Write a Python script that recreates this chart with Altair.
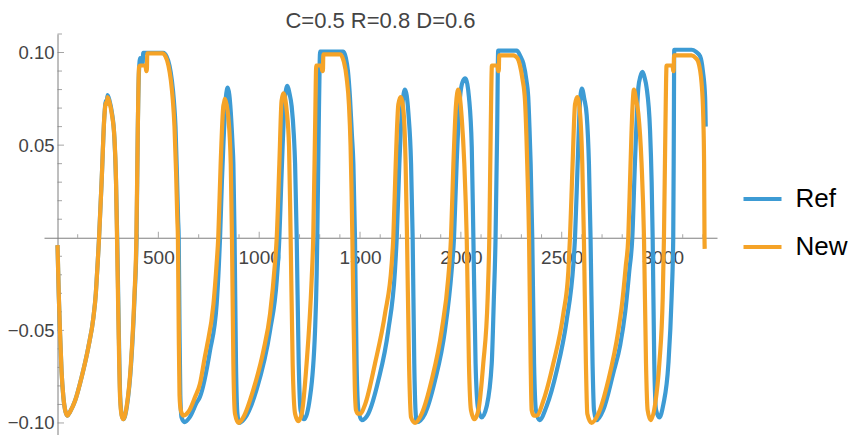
import altair as alt
import pandas as pd

# ---------------- data ----------------
ref_x = [0, 6, 12, 20, 29, 40, 50, 62, 87, 120, 153, 178, 190, 194, 200, 206, 219, 232, 240, 244,
         248, 258, 269, 282, 290, 296, 303, 311, 319, 327, 344, 365, 382, 392, 398, 404, 410, 418,
         422, 425, 525, 540, 555, 567, 577, 585, 592, 598, 601, 605, 609, 615, 630, 655, 690, 706,
         756, 789, 800, 806, 815, 822, 835, 844, 852, 859, 868, 872, 878, 885, 892, 901, 925, 987,
         1054, 1087, 1100, 1108, 1116, 1128, 1140, 1150, 1161, 1172, 1178, 1186, 1196, 1205, 1222,
         1252, 1277, 1285, 1288, 1295, 1300, 1302, 1417, 1430, 1440, 1450, 1460, 1467, 1475, 1483,
         1492, 1508, 1541, 1591, 1640, 1673, 1682, 1695, 1710, 1723, 1740, 1753, 1761, 1769, 1775,
         1781, 1822, 1872, 1921, 1954, 1966, 1979, 1996, 2008, 2022, 2032, 2040, 2054, 2062, 2073,
         2085, 2103, 2128, 2153, 2163, 2172, 2180, 2185, 2277, 2295, 2310, 2325, 2334, 2340, 2346,
         2354, 2363, 2372, 2389, 2425, 2475, 2524, 2558, 2566, 2579, 2590, 2600, 2612, 2624, 2635,
         2643, 2653, 2660, 2673, 2706, 2756, 2790, 2815, 2835, 2850, 2863, 2880, 2890, 2901, 2912,
         2921, 2938, 2946, 2951, 2959, 2968, 2984, 3004, 3029, 3045, 3053, 3056, 3058, 3144, 3165,
         3186, 3200, 3211, 3214]
ref_y = [-0.004, -0.030, -0.050, -0.072, -0.086, -0.094, -0.096, -0.094, -0.088, -0.075, -0.059,
         -0.043, -0.030, -0.023, -0.012, 0.000, 0.031, 0.065, 0.074, 0.073, 0.077, 0.074, 0.068,
         0.054, 0.031, 0.000, -0.045, -0.086, -0.096, -0.098, -0.091, -0.068, -0.032, 0.000, 0.058,
         0.090, 0.097, 0.095, 0.094, 0.0998, 0.0998, 0.098, 0.093, 0.085, 0.074, 0.060, 0.035,
         0.010, 0.000, -0.050, -0.085, -0.097, -0.0995, -0.097, -0.089, -0.086, -0.061, -0.036,
         -0.015, 0.000, 0.030, 0.049, 0.076, 0.081, 0.077, 0.068, 0.050, 0.040, 0.000, -0.068,
         -0.095, -0.100, -0.098, -0.082, -0.050, -0.023, 0.000, 0.025, 0.049, 0.076, 0.082, 0.078,
         0.071, 0.055, 0.040, 0.000, -0.068, -0.093, -0.098, -0.086, -0.050, -0.020, 0.000, 0.058,
         0.095, 0.1005, 0.1005, 0.097, 0.090, 0.076, 0.055, 0.040, 0.000, -0.068, -0.093, -0.0985,
         -0.095, -0.077, -0.050, -0.018, 0.000, 0.040, 0.072, 0.080, 0.067, 0.040, 0.000, -0.068,
         -0.093, -0.0995, -0.095, -0.077, -0.050, -0.018, 0.000, 0.040, 0.076, 0.084, 0.086, 0.083,
         0.076, 0.049, 0.000, -0.068, -0.092, -0.097, -0.091, -0.068, -0.035, 0.000, 0.058, 0.101,
         0.101, 0.098, 0.094, 0.085, 0.076, 0.060, 0.040, 0.000, -0.068, -0.093, -0.0985, -0.091,
         -0.072, -0.045, -0.014, 0.000, 0.040, 0.072, 0.0805, 0.075, 0.066, 0.040, 0.000, -0.068,
         -0.093, -0.0985, -0.093, -0.073, -0.058, -0.040, -0.018, 0.000, 0.040, 0.081, 0.087,
         0.0895, 0.086, 0.081, 0.058, 0.030, 0.000, -0.068, -0.093, -0.097, -0.090, -0.068, -0.032,
         0.000, 0.058, 0.1015, 0.1015, 0.1005, 0.098, 0.090, 0.076, 0.060]

new_x = [0, 6, 12, 20, 29, 40, 50, 62, 87, 120, 153, 178, 190, 194, 200, 206, 219, 232, 240, 244,
         248, 258, 269, 282, 290, 295, 302, 310, 318, 326, 343, 364, 381, 391, 398, 404, 410, 436,
         440, 443, 445, 520, 535, 550, 562, 572, 580, 588, 594, 597, 601, 605, 611, 624, 649, 682,
         706, 731, 740, 773, 789, 797, 809, 822, 826, 830, 838, 847, 859, 865, 872, 880, 897, 921,
         971, 1021, 1054, 1078, 1087, 1100, 1111, 1120, 1136, 1148, 1156, 1166, 1178, 1194, 1211,
         1235, 1260, 1268, 1277, 1283, 1308, 1313, 1316, 1318, 1401, 1420, 1434, 1445, 1453, 1458,
         1462, 1468, 1474, 1480, 1490, 1500, 1525, 1574, 1624, 1657, 1665, 1677, 1690, 1701, 1715,
         1726, 1733, 1743, 1753, 1773, 1806, 1855, 1905, 1938, 1951, 1963, 1976, 1987, 2004, 2017,
         2029, 2040, 2050, 2067, 2087, 2111, 2133, 2141, 2148, 2154, 2182, 2185, 2188, 2190, 2260,
         2280, 2293, 2305, 2318, 2325, 2329, 2338, 2346, 2351, 2362, 2376, 2409, 2458, 2508, 2533,
         2541, 2554, 2566, 2577, 2591, 2602, 2610, 2620, 2627, 2648, 2682, 2731, 2781, 2800, 2818,
         2830, 2840, 2850, 2858, 2868, 2880, 2896, 2908, 2918, 2926, 2941, 2963, 2984, 3001, 3007,
         3014, 3020, 3050, 3053, 3055, 3057, 3144, 3165, 3177, 3194, 3202, 3206, 3208, 3209]
new_y = [-0.004, -0.030, -0.050, -0.072, -0.086, -0.094, -0.096, -0.094, -0.088, -0.075, -0.059,
         -0.043, -0.030, -0.023, -0.012, 0.000, 0.031, 0.065, 0.073, 0.072, 0.076, 0.073, 0.067,
         0.054, 0.031, 0.000, -0.045, -0.086, -0.096, -0.098, -0.091, -0.068, -0.032, 0.000, 0.058,
         0.092, 0.093, 0.093, 0.090, 0.090, 0.0995, 0.0995, 0.098, 0.093, 0.085, 0.074, 0.060,
         0.035, 0.010, 0.000, -0.050, -0.085, -0.093, -0.096, -0.094, -0.086, -0.079, -0.064,
         -0.059, -0.036, -0.014, 0.000, 0.040, 0.071, 0.073, 0.075, 0.072, 0.065, 0.040, 0.000,
         -0.068, -0.095, -0.100, -0.097, -0.082, -0.061, -0.041, -0.014, 0.000, 0.040, 0.074,
         0.078, 0.069, 0.049, 0.000, -0.068, -0.095, -0.099, -0.095, -0.068, -0.023, 0.000, 0.058,
         0.093, 0.093, 0.090, 0.090, 0.099, 0.099, 0.095, 0.086, 0.072, 0.050, 0.025, 0.000,
         -0.045, -0.080, -0.093, -0.095, -0.095, -0.090, -0.068, -0.041, -0.014, 0.000, 0.040,
         0.072, 0.076, 0.069, 0.040, 0.000, -0.068, -0.097, -0.100, -0.095, -0.077, -0.050,
         -0.021, 0.000, 0.040, 0.072, 0.080, 0.065, 0.040, 0.000, -0.068, -0.093, -0.098, -0.093,
         -0.068, -0.032, 0.000, 0.058, 0.093, 0.093, 0.090, 0.090, 0.0985, 0.0985, 0.097, 0.093,
         0.086, 0.074, 0.055, 0.040, 0.000, -0.068, -0.093, -0.096, -0.096, -0.088, -0.068,
         -0.041, -0.018, 0.000, 0.040, 0.072, 0.076, 0.067, 0.040, 0.000, -0.068, -0.095, -0.100,
         -0.095, -0.077, -0.050, -0.035, -0.015, 0.000, 0.035, 0.068, 0.080, 0.075, 0.067, 0.040,
         0.000, -0.068, -0.093, -0.0985, -0.090, -0.068, -0.032, 0.000, 0.058, 0.093, 0.093,
         0.090, 0.090, 0.0985, 0.0985, 0.097, 0.095, 0.083, 0.065, 0.040, 0.000, -0.006]

series_names = ["Ref", "New"]
series_colors = ["#3D9BD4", "#F5A327"]

title_text = "C=0.5 R=0.8 D=0.6"

x_major = [500, 1000, 1500, 2000, 2500, 3000]
x_minor = [100, 200, 300, 400, 600, 700, 800, 900, 1100, 1200, 1300, 1400, 1600, 1700, 1800,
           1900, 2100, 2200, 2300, 2400, 2600, 2700, 2800, 2900, 3100, 3200]
y_major = [-0.10, -0.05, 0.05, 0.10]
y_minor = [-0.09, -0.08, -0.07, -0.06, -0.04, -0.03, -0.02, -0.01,
           0.01, 0.02, 0.03, 0.04, 0.06, 0.07, 0.08, 0.09, 0.11]

# ---------------- layout ----------------
FONT = "Liberation Sans"
AX = "#7f7f7f"
W, H = 673, 401
x_dom = [-67, 3270]
y_dom = [-0.1065, 0.11]
x0_px = W * (0 - x_dom[0]) / (x_dom[1] - x_dom[0])        # y-axis position from left
y0_px = H * (0 - y_dom[0]) / (y_dom[1] - y_dom[0])        # x-axis position from bottom

xs = alt.Scale(domain=x_dom, nice=False, zero=False)
ys = alt.Scale(domain=y_dom, nice=False, zero=False)

x_axis = alt.Axis(values=x_major, format="d", title=None, ticks=False, tickSize=0, grid=False,
                  labelFontSize=19, labelColor="#444444", labelFont=FONT, labelPadding=11,
                  labelFlush=False, labelOverlap=False,
                  domainColor=AX, domainWidth=1, offset=-y0_px)
y_axis = alt.Axis(values=y_major, format=".2f", title=None, ticks=False, tickSize=0, grid=False,
                  labelFontSize=18.5, labelColor="#444444", labelFont=FONT, labelPadding=3.5,
                  labelFlush=False, labelOverlap=False,
                  domainColor=AX, domainWidth=1, offset=-x0_px)

color_scale = alt.Scale(domain=series_names, range=series_colors)
legend = alt.Legend(orient="none", legendX=697, legendY=143.5, title=None, symbolType="stroke",
                    symbolSize=38 * 38, symbolStrokeWidth=4.2, labelFontSize=26, labelFont=FONT,
                    labelColor="black", labelOffset=11.5, rowPadding=13, padding=0)

df = pd.concat([
    pd.DataFrame({"x": ref_x, "y": ref_y, "series": "Ref", "i": range(len(ref_x))}),
    pd.DataFrame({"x": new_x, "y": new_y, "series": "New", "i": range(len(new_x))}),
], ignore_index=True)

base = alt.Chart(df)


def line_layer(name):
    return base.transform_filter(alt.datum.series == name).mark_line(
        strokeWidth=4.2, clip=True, strokeJoin="round", strokeCap="butt", interpolate="monotone"
    ).encode(
        x=alt.X("x:Q", scale=xs, axis=x_axis),
        y=alt.Y("y:Q", scale=ys, axis=y_axis),
        order=alt.Order("i:Q"),
        color=alt.Color("series:N", scale=color_scale, legend=legend),
    )


def xticks(vals, size):
    return alt.Chart(pd.DataFrame({"v": vals})).mark_tick(
        orient="vertical", size=size, thickness=1, color=AX, yOffset=-size / 2
    ).encode(
        x=alt.X("v:Q", scale=xs, axis=x_axis),
        y=alt.YDatum(0, scale=ys, axis=y_axis),
    )


def yticks(vals, size):
    return alt.Chart(pd.DataFrame({"v": vals})).mark_tick(
        orient="horizontal", size=size, thickness=1, color=AX, xOffset=size / 2
    ).encode(
        y=alt.Y("v:Q", scale=ys, axis=y_axis),
        x=alt.XDatum(0, scale=xs, axis=x_axis),
    )


# plot title, drawn as a text mark centred above the plot area
title_layer = alt.Chart(pd.DataFrame({"t": [title_text]})).mark_text(
    font=FONT, fontSize=22, color="#444444", align="center", baseline="alphabetic"
).encode(text="t:N", x=alt.value(W / 2), y=alt.value(-6))

chart = alt.layer(
    xticks(x_minor, 3.5), xticks(x_major, 6),
    yticks(y_minor, 4.5), yticks(y_major, 6.5),
    line_layer("Ref"), line_layer("New"),
    title_layer,
).properties(
    width=W, height=H,
    padding={"left": 36, "top": 26, "right": 131, "bottom": 0},
    autosize=alt.AutoSizeParams(type="none"),
).configure_view(stroke="transparent")

chart.save("out.html", embed_options={"renderer": "svg", "actions": False})
